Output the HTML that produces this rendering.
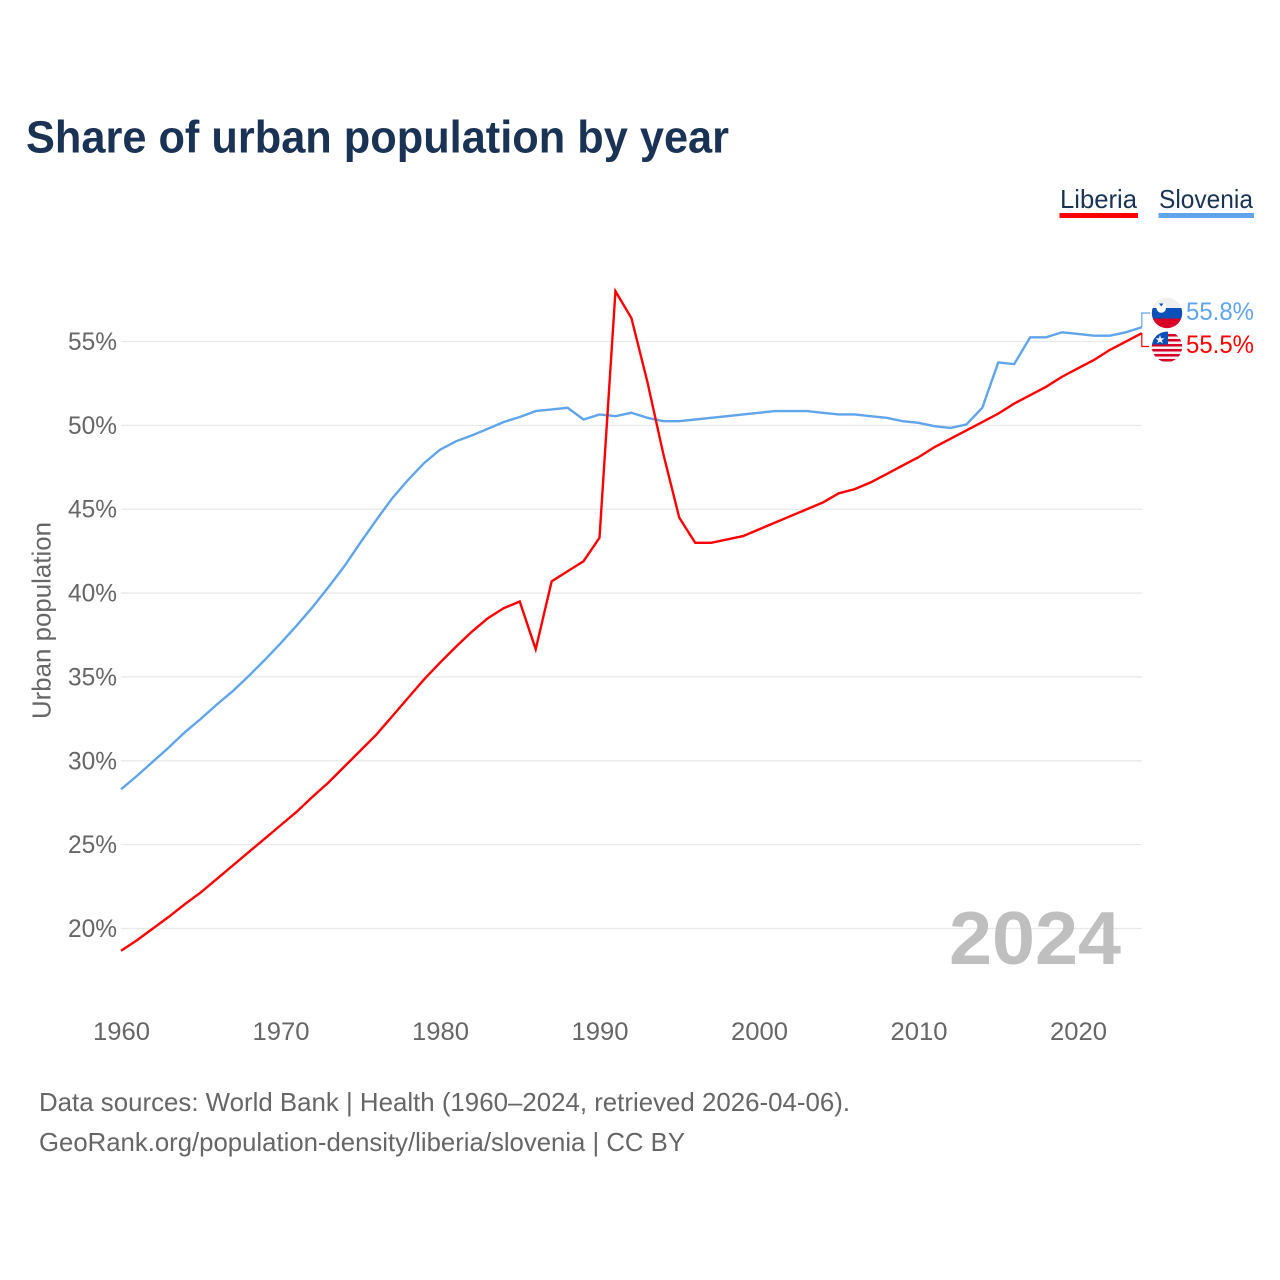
<!DOCTYPE html>
<html lang="en">
<head>
<meta charset="utf-8">
<title>Share of urban population by year</title>
<style>
html,body{margin:0;padding:0;background:#fff;}
svg{display:block;font-family:"Liberation Sans",sans-serif;}
</style>
</head>
<body>
<svg id="chart" width="1280" height="1280" viewBox="0 0 1280 1280" xmlns="http://www.w3.org/2000/svg">
  <defs>
    <clipPath id="flag-si-clip"><circle cx="1167" cy="313" r="15.2"/></clipPath>
    <clipPath id="flag-lr-clip"><circle cx="1167" cy="346.800" r="15.2"/></clipPath>
  </defs>
  <rect width="1280" height="1280" fill="#fff"/>
  <text x="26" y="152.500" font-size="45" font-weight="700" fill="#1a3354" textLength="703" lengthAdjust="spacingAndGlyphs">Share of urban population by year</text>

  <g>
    <g>
      <text x="1060" y="208" font-size="26" fill="#1a3354" textLength="77" lengthAdjust="spacingAndGlyphs">Liberia</text>
      <rect x="1059.5" y="213" width="78.5" height="5" fill="#ff0000"/>
    </g>
    <g>
      <text x="1159" y="208" font-size="26" fill="#1a3354" textLength="94" lengthAdjust="spacingAndGlyphs">Slovenia</text>
      <rect x="1158.5" y="213" width="95.5" height="5" fill="#60a5ec"/>
    </g>
  </g>

  <g id="grid"></g>
  <g id="y-ticks"></g>
  <g id="x-ticks"></g>
  <text transform="translate(50.500 620.5) rotate(-90)" text-anchor="middle" font-size="26" fill="#666" textLength="197" lengthAdjust="spacingAndGlyphs">Urban population</text>

  <text x="949" y="964" font-size="75" font-weight="700" fill="#bfbfbf" textLength="172" lengthAdjust="spacingAndGlyphs">2024</text>

  <g id="series"></g>
  <g id="end-labels"></g>

  <g clip-path="url(#flag-si-clip)">
    <rect x="1151" y="297" width="32" height="11" fill="#efefef"/>
    <rect x="1151" y="308" width="32" height="10.500" fill="#0b52b8"/>
    <rect x="1151" y="318.500" width="32" height="10" fill="#d80027"/>
    <path d="M1156.500 303.500h9.500v4.500a4.750 4.750 0 0 1-9.500 0z" fill="#fff"/>
    <path d="M1159 303.500h4.500l-2.250 3z" fill="#0b52b8"/>
  </g>
  <g clip-path="url(#flag-lr-clip)">
    <rect x="1151" y="331" width="32" height="32" fill="#f4f0f0"/>
    <rect x="1151" y="334" width="32" height="2.500" fill="#d80027"/>
    <rect x="1151" y="339" width="32" height="2.500" fill="#d80027"/>
    <rect x="1151" y="344" width="32" height="2.500" fill="#d80027"/>
    <rect x="1151" y="349" width="32" height="2.500" fill="#d80027"/>
    <rect x="1151" y="354" width="32" height="2.500" fill="#d80027"/>
    <rect x="1151" y="359" width="32" height="2.500" fill="#d80027"/>
    <rect x="1151" y="331" width="17" height="13.500" fill="#0b52b8"/>
    <polygon points="1160,335 1161.100,338.300 1164.500,338.300 1161.800,340.400 1162.800,343.500 1160,341.600 1157.200,343.500 1158.200,340.400 1155.500,338.300 1158.900,338.300" fill="#f0f0f0"/>
  </g>

  <text x="39" y="1111" font-size="26" fill="#666" textLength="811" lengthAdjust="spacingAndGlyphs">Data sources: World Bank | Health (1960–2024, retrieved 2026-04-06).</text>
  <text x="39" y="1151" font-size="26" fill="#666" textLength="646" lengthAdjust="spacingAndGlyphs">GeoRank.org/population-density/liberia/slovenia | CC BY</text>
</svg>
<script>
const startYear = 1960;
const yTickValues = [20, 25, 30, 35, 40, 45, 50, 55];
const xTickYears = [1960, 1970, 1980, 1990, 2000, 2010, 2020];
const liberiaValues = [18.67,19.3,20.0,20.7,21.45,22.15,22.95,23.75,24.55,25.35,26.15,26.95,27.85,28.7,29.65,30.6,31.55,32.65,33.75,34.85,35.85,36.8,37.7,38.5,39.1,39.5,36.65,40.7,41.3,41.9,43.3,58.0,56.4,52.6,48.3,44.5,43.0,43.0,43.2,43.4,43.8,44.2,44.6,45.0,45.4,45.95,46.2,46.6,47.1,47.6,48.1,48.7,49.2,49.7,50.2,50.7,51.3,51.8,52.3,52.9,53.4,53.9,54.5,55.0,55.5];
const sloveniaValues = [28.3,29.1,29.95,30.8,31.7,32.5,33.35,34.15,35.05,36.0,37.0,38.05,39.15,40.35,41.6,43.0,44.35,45.65,46.75,47.75,48.55,49.05,49.4,49.8,50.2,50.5,50.85,50.95,51.05,50.35,50.65,50.55,50.75,50.45,50.25,50.25,50.35,50.45,50.55,50.65,50.75,50.85,50.85,50.85,50.75,50.65,50.65,50.55,50.45,50.25,50.15,49.95,49.85,50.05,51.05,53.75,53.65,55.25,55.25,55.55,55.45,55.35,55.35,55.55,55.85];

const NS = 'http://www.w3.org/2000/svg';
function xScale(year) { return 121 + (year - 1960) * 15.95; }
function yScale(value) { return 928.5 - (value - 20) * 16.771; }
function make(tag, parent, attrs) {
  const el = document.createElementNS(NS, tag);
  for (const k in attrs) el.setAttribute(k, attrs[k]);
  parent.appendChild(el);
  return el;
}
const gridGroup = document.getElementById('grid');
const yGroup = document.getElementById('y-ticks');
const xGroup = document.getElementById('x-ticks');
const seriesGroup = document.getElementById('series');
const labelGroup = document.getElementById('end-labels');
const lastYear = startYear + liberiaValues.length - 1;

yTickValues.forEach(function (v) {
  const line = make('line', gridGroup, {x1: 121, x2: 1142, y1: yScale(v), y2: yScale(v), stroke: '#e9e9e9', 'stroke-width': 1.3});
  
  
  const t = make('text', yGroup, {x: 117, y: yScale(v) + 8.5, 'text-anchor': 'end', 'font-size': 25, fill: '#666', textLength: 49, lengthAdjust: 'spacingAndGlyphs'});
  
  
  t.textContent = v + '%';
});

xTickYears.forEach(function (y) {
  const t = make('text', xGroup, {x: xScale(y) + 0.5, y: 1040, 'text-anchor': 'middle', 'font-size': 25, fill: '#666', textLength: 57, lengthAdjust: 'spacingAndGlyphs'});
  
  
  t.textContent = y;
});

function points(values) {
  return values.map(function (v, i) { return xScale(startYear + i).toFixed(2) + ',' + yScale(v).toFixed(2); }).join(' ');
}

const sloveniaLine = make('polyline', seriesGroup, {points: points(sloveniaValues), fill: 'none', stroke: '#60a5ec', 'stroke-width': 2.4, 'stroke-linejoin': 'miter'});


const liberiaLine = make('polyline', seriesGroup, {points: points(liberiaValues), fill: 'none', stroke: '#ff0000', 'stroke-width': 2.4, 'stroke-linejoin': 'miter'});



const sloveniaLast = sloveniaValues[sloveniaValues.length - 1];
const liberiaLast = liberiaValues[liberiaValues.length - 1];
const endX = xScale(lastYear);

const sloveniaConnector = make('polyline', labelGroup, {points: endX + ',' + yScale(sloveniaLast) + ' ' + endX + ',313 1150,313', fill: 'none', stroke: '#60a5ec', 'stroke-width': 1.2});


const liberiaConnector = make('polyline', labelGroup, {points: endX + ',' + yScale(liberiaLast) + ' ' + endX + ',346.500 1149,346.500', fill: 'none', stroke: '#ff0000', 'stroke-width': 1.2});



const sloveniaLabel = make('text', labelGroup, {x: 1186, y: 320, 'font-size': 25, fill: '#60a5ec', textLength: 68, lengthAdjust: 'spacingAndGlyphs'});


sloveniaLabel.textContent = (Math.floor(sloveniaLast * 10) / 10).toFixed(1) + '%';
const liberiaLabel = make('text', labelGroup, {x: 1186, y: 353, 'font-size': 25, fill: '#ff0000', textLength: 68, lengthAdjust: 'spacingAndGlyphs'});


liberiaLabel.textContent = (Math.floor(liberiaLast * 10) / 10).toFixed(1) + '%';
</script>
</body>
</html>
